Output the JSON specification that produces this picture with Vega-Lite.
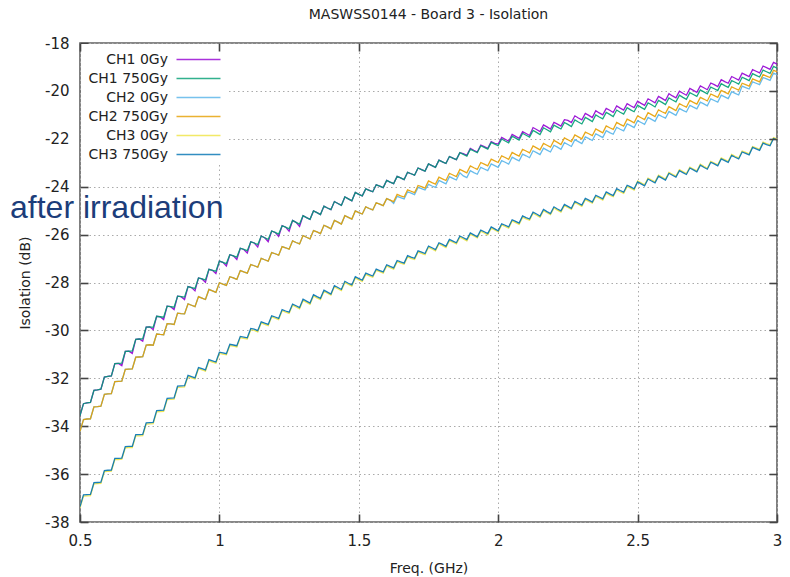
{
"$schema":"https://vega.github.io/schema/vega-lite/v6.json",
"width":697,"height":479,
"autosize":{"type":"none"},
"padding":{"left":80,"top":43,"right":13,"bottom":55},
"background":"white",
"title":{"text":"MASWSS0144 - Board 3 - Isolation","font":"DejaVu Sans","fontSize":14,"fontWeight":"normal","color":"#222222","offset":14,"anchor":"middle"},
"config":{"view":{"stroke":"#606060","strokeWidth":1.6},"font":"DejaVu Sans"},
"data":{"values":[
{"f":0.5,"p":-33.56,"g":-33.56,"lb":-34.21,"o":-34.21,"y":-37.41,"b":-37.36},
{"f":0.5125,"p":-33.06,"g":-33.06,"lb":-33.72,"o":-33.72,"y":-36.92,"b":-36.87},
{"f":0.525,"p":-33.03,"g":-33.03,"lb":-33.70,"o":-33.70,"y":-36.91,"b":-36.86},
{"f":0.5375,"p":-33.01,"g":-33.01,"lb":-33.69,"o":-33.69,"y":-36.90,"b":-36.85},
{"f":0.55,"p":-32.50,"g":-32.50,"lb":-33.19,"o":-33.19,"y":-36.41,"b":-36.36},
{"f":0.5625,"p":-32.48,"g":-32.48,"lb":-33.18,"o":-33.18,"y":-36.40,"b":-36.35},
{"f":0.575,"p":-32.45,"g":-32.45,"lb":-33.16,"o":-33.16,"y":-36.39,"b":-36.34},
{"f":0.5875,"p":-31.95,"g":-31.95,"lb":-32.67,"o":-32.67,"y":-35.90,"b":-35.85},
{"f":0.6,"p":-31.92,"g":-31.92,"lb":-32.65,"o":-32.65,"y":-35.89,"b":-35.84},
{"f":0.6125,"p":-31.90,"g":-31.90,"lb":-32.64,"o":-32.64,"y":-35.88,"b":-35.83},
{"f":0.625,"p":-31.39,"g":-31.39,"lb":-32.14,"o":-32.14,"y":-35.39,"b":-35.34},
{"f":0.6375,"p":-31.38,"g":-31.38,"lb":-32.13,"o":-32.13,"y":-35.39,"b":-35.34},
{"f":0.65,"p":-31.47,"g":-31.37,"lb":-32.12,"o":-32.12,"y":-35.38,"b":-35.33},
{"f":0.6625,"p":-30.88,"g":-30.88,"lb":-31.63,"o":-31.63,"y":-34.90,"b":-34.85},
{"f":0.675,"p":-30.87,"g":-30.87,"lb":-31.62,"o":-31.62,"y":-34.89,"b":-34.84},
{"f":0.6875,"p":-30.96,"g":-30.86,"lb":-31.61,"o":-31.61,"y":-34.89,"b":-34.84},
{"f":0.7,"p":-30.37,"g":-30.37,"lb":-31.12,"o":-31.12,"y":-34.40,"b":-34.35},
{"f":0.7125,"p":-30.36,"g":-30.36,"lb":-31.11,"o":-31.11,"y":-34.40,"b":-34.35},
{"f":0.725,"p":-30.45,"g":-30.35,"lb":-31.10,"o":-31.10,"y":-34.39,"b":-34.34},
{"f":0.7375,"p":-29.86,"g":-29.86,"lb":-30.61,"o":-30.61,"y":-33.91,"b":-33.86},
{"f":0.75,"p":-29.85,"g":-29.85,"lb":-30.60,"o":-30.60,"y":-33.90,"b":-33.85},
{"f":0.7625,"p":-29.97,"g":-29.87,"lb":-30.62,"o":-30.62,"y":-33.89,"b":-33.84},
{"f":0.775,"p":-29.41,"g":-29.41,"lb":-30.15,"o":-30.15,"y":-33.40,"b":-33.35},
{"f":0.7875,"p":-29.43,"g":-29.43,"lb":-30.17,"o":-30.17,"y":-33.39,"b":-33.34},
{"f":0.8,"p":-29.55,"g":-29.45,"lb":-30.18,"o":-30.18,"y":-33.38,"b":-33.33},
{"f":0.8125,"p":-28.99,"g":-28.99,"lb":-29.72,"o":-29.72,"y":-32.89,"b":-32.84},
{"f":0.825,"p":-29.01,"g":-29.01,"lb":-29.73,"o":-29.73,"y":-32.88,"b":-32.83},
{"f":0.8375,"p":-29.13,"g":-29.03,"lb":-29.75,"o":-29.75,"y":-32.87,"b":-32.82},
{"f":0.85,"p":-28.57,"g":-28.57,"lb":-29.28,"o":-29.28,"y":-32.38,"b":-32.33},
{"f":0.8625,"p":-28.59,"g":-28.59,"lb":-29.30,"o":-29.30,"y":-32.37,"b":-32.32},
{"f":0.875,"p":-28.71,"g":-28.61,"lb":-29.31,"o":-29.31,"y":-32.36,"b":-32.31},
{"f":0.8875,"p":-28.17,"g":-28.17,"lb":-28.89,"o":-28.89,"y":-31.93,"b":-31.88},
{"f":0.9,"p":-28.21,"g":-28.21,"lb":-28.95,"o":-28.95,"y":-31.98,"b":-31.93},
{"f":0.9125,"p":-28.35,"g":-28.25,"lb":-29.01,"o":-29.01,"y":-32.03,"b":-31.98},
{"f":0.925,"p":-27.81,"g":-27.81,"lb":-28.59,"o":-28.59,"y":-31.60,"b":-31.55},
{"f":0.9375,"p":-27.85,"g":-27.85,"lb":-28.65,"o":-28.65,"y":-31.65,"b":-31.60},
{"f":0.95,"p":-27.99,"g":-27.89,"lb":-28.71,"o":-28.71,"y":-31.70,"b":-31.65},
{"f":0.9625,"p":-27.45,"g":-27.45,"lb":-28.29,"o":-28.29,"y":-31.27,"b":-31.22},
{"f":0.975,"p":-27.49,"g":-27.49,"lb":-28.35,"o":-28.35,"y":-31.32,"b":-31.27},
{"f":0.9875,"p":-27.63,"g":-27.53,"lb":-28.41,"o":-28.41,"y":-31.37,"b":-31.32},
{"f":1.0,"p":-27.11,"g":-27.11,"lb":-28.01,"o":-28.01,"y":-30.96,"b":-30.91},
{"f":1.0125,"p":-27.16,"g":-27.16,"lb":-28.07,"o":-28.07,"y":-30.99,"b":-30.94},
{"f":1.025,"p":-27.31,"g":-27.21,"lb":-28.12,"o":-28.12,"y":-31.02,"b":-30.97},
{"f":1.0375,"p":-26.84,"g":-26.84,"lb":-27.76,"o":-27.76,"y":-30.63,"b":-30.58},
{"f":1.05,"p":-26.89,"g":-26.89,"lb":-27.81,"o":-27.81,"y":-30.66,"b":-30.61},
{"f":1.0625,"p":-27.04,"g":-26.94,"lb":-27.87,"o":-27.87,"y":-30.69,"b":-30.64},
{"f":1.075,"p":-26.57,"g":-26.57,"lb":-27.50,"o":-27.50,"y":-30.30,"b":-30.25},
{"f":1.0875,"p":-26.62,"g":-26.62,"lb":-27.56,"o":-27.56,"y":-30.33,"b":-30.28},
{"f":1.1,"p":-26.77,"g":-26.67,"lb":-27.61,"o":-27.61,"y":-30.36,"b":-30.31},
{"f":1.1125,"p":-26.30,"g":-26.30,"lb":-27.25,"o":-27.25,"y":-29.97,"b":-29.92},
{"f":1.125,"p":-26.35,"g":-26.35,"lb":-27.30,"o":-27.30,"y":-30.00,"b":-29.95},
{"f":1.1375,"p":-26.52,"g":-26.42,"lb":-27.36,"o":-27.36,"y":-30.06,"b":-30.01},
{"f":1.15,"p":-26.06,"g":-26.06,"lb":-26.99,"o":-26.99,"y":-29.69,"b":-29.64},
{"f":1.1625,"p":-26.13,"g":-26.13,"lb":-27.05,"o":-27.05,"y":-29.75,"b":-29.70},
{"f":1.175,"p":-26.30,"g":-26.20,"lb":-27.11,"o":-27.11,"y":-29.80,"b":-29.75},
{"f":1.1875,"p":-25.85,"g":-25.85,"lb":-26.75,"o":-26.75,"y":-29.44,"b":-29.39},
{"f":1.2,"p":-25.91,"g":-25.91,"lb":-26.80,"o":-26.80,"y":-29.49,"b":-29.44},
{"f":1.2125,"p":-26.08,"g":-25.98,"lb":-26.86,"o":-26.86,"y":-29.55,"b":-29.50},
{"f":1.225,"p":-25.63,"g":-25.63,"lb":-26.50,"o":-26.50,"y":-29.18,"b":-29.13},
{"f":1.2375,"p":-25.69,"g":-25.69,"lb":-26.55,"o":-26.55,"y":-29.24,"b":-29.19},
{"f":1.25,"p":-25.86,"g":-25.76,"lb":-26.61,"o":-26.61,"y":-29.29,"b":-29.24},
{"f":1.2625,"p":-25.41,"g":-25.41,"lb":-26.26,"o":-26.26,"y":-28.95,"b":-28.90},
{"f":1.275,"p":-25.49,"g":-25.49,"lb":-26.33,"o":-26.33,"y":-29.02,"b":-28.97},
{"f":1.2875,"p":-25.66,"g":-25.56,"lb":-26.39,"o":-26.39,"y":-29.10,"b":-29.05},
{"f":1.3,"p":-25.21,"g":-25.21,"lb":-26.04,"o":-26.04,"y":-28.75,"b":-28.70},
{"f":1.3125,"p":-25.29,"g":-25.29,"lb":-26.11,"o":-26.11,"y":-28.83,"b":-28.78},
{"f":1.325,"p":-25.36,"g":-25.36,"lb":-26.18,"o":-26.18,"y":-28.91,"b":-28.86},
{"f":1.3375,"p":-25.01,"g":-25.01,"lb":-25.83,"o":-25.83,"y":-28.56,"b":-28.51},
{"f":1.35,"p":-25.08,"g":-25.08,"lb":-25.89,"o":-25.89,"y":-28.64,"b":-28.59},
{"f":1.3625,"p":-25.16,"g":-25.16,"lb":-25.96,"o":-25.96,"y":-28.71,"b":-28.66},
{"f":1.375,"p":-24.81,"g":-24.81,"lb":-25.61,"o":-25.61,"y":-28.37,"b":-28.32},
{"f":1.3875,"p":-24.89,"g":-24.89,"lb":-25.68,"o":-25.68,"y":-28.45,"b":-28.40},
{"f":1.4,"p":-24.96,"g":-24.96,"lb":-25.76,"o":-25.76,"y":-28.53,"b":-28.48},
{"f":1.4125,"p":-24.62,"g":-24.62,"lb":-25.41,"o":-25.41,"y":-28.18,"b":-28.13},
{"f":1.425,"p":-24.70,"g":-24.70,"lb":-25.48,"o":-25.48,"y":-28.26,"b":-28.21},
{"f":1.4375,"p":-24.78,"g":-24.78,"lb":-25.56,"o":-25.56,"y":-28.34,"b":-28.29},
{"f":1.45,"p":-24.43,"g":-24.43,"lb":-25.21,"o":-25.21,"y":-28.00,"b":-27.95},
{"f":1.4625,"p":-24.51,"g":-24.51,"lb":-25.28,"o":-25.28,"y":-28.08,"b":-28.03},
{"f":1.475,"p":-24.59,"g":-24.59,"lb":-25.35,"o":-25.35,"y":-28.15,"b":-28.10},
{"f":1.4875,"p":-24.24,"g":-24.24,"lb":-25.01,"o":-25.01,"y":-27.81,"b":-27.76},
{"f":1.5,"p":-24.32,"g":-24.32,"lb":-25.08,"o":-25.08,"y":-27.89,"b":-27.84},
{"f":1.5125,"p":-24.38,"g":-24.38,"lb":-25.14,"o":-25.14,"y":-27.95,"b":-27.90},
{"f":1.525,"p":-24.09,"g":-24.09,"lb":-24.84,"o":-24.84,"y":-27.66,"b":-27.61},
{"f":1.5375,"p":-24.15,"g":-24.15,"lb":-24.91,"o":-24.91,"y":-27.72,"b":-27.67},
{"f":1.55,"p":-24.21,"g":-24.21,"lb":-24.97,"o":-24.97,"y":-27.78,"b":-27.73},
{"f":1.5625,"p":-23.92,"g":-23.92,"lb":-24.67,"o":-24.67,"y":-27.49,"b":-27.44},
{"f":1.575,"p":-23.98,"g":-23.98,"lb":-24.73,"o":-24.73,"y":-27.55,"b":-27.50},
{"f":1.5875,"p":-24.04,"g":-24.04,"lb":-24.79,"o":-24.79,"y":-27.61,"b":-27.56},
{"f":1.6,"p":-23.74,"g":-23.74,"lb":-24.50,"o":-24.50,"y":-27.31,"b":-27.26},
{"f":1.6125,"p":-23.81,"g":-23.81,"lb":-24.56,"o":-24.56,"y":-27.38,"b":-27.33},
{"f":1.625,"p":-23.87,"g":-23.87,"lb":-24.70,"o":-24.62,"y":-27.44,"b":-27.39},
{"f":1.6375,"p":-23.57,"g":-23.57,"lb":-24.40,"o":-24.32,"y":-27.13,"b":-27.08},
{"f":1.65,"p":-23.63,"g":-23.63,"lb":-24.46,"o":-24.38,"y":-27.19,"b":-27.14},
{"f":1.6625,"p":-23.70,"g":-23.70,"lb":-24.51,"o":-24.43,"y":-27.24,"b":-27.19},
{"f":1.675,"p":-23.40,"g":-23.40,"lb":-24.21,"o":-24.13,"y":-26.93,"b":-26.88},
{"f":1.6875,"p":-23.46,"g":-23.46,"lb":-24.27,"o":-24.19,"y":-26.99,"b":-26.94},
{"f":1.7,"p":-23.52,"g":-23.52,"lb":-24.33,"o":-24.25,"y":-27.04,"b":-26.99},
{"f":1.7125,"p":-23.22,"g":-23.22,"lb":-24.03,"o":-23.95,"y":-26.73,"b":-26.68},
{"f":1.725,"p":-23.29,"g":-23.29,"lb":-24.08,"o":-24.00,"y":-26.78,"b":-26.73},
{"f":1.7375,"p":-23.35,"g":-23.35,"lb":-24.14,"o":-24.06,"y":-26.84,"b":-26.79},
{"f":1.75,"p":-23.05,"g":-23.05,"lb":-23.90,"o":-23.76,"y":-26.53,"b":-26.48},
{"f":1.7625,"p":-23.12,"g":-23.12,"lb":-23.97,"o":-23.83,"y":-26.60,"b":-26.55},
{"f":1.775,"p":-23.19,"g":-23.19,"lb":-24.03,"o":-23.89,"y":-26.68,"b":-26.63},
{"f":1.7875,"p":-22.89,"g":-22.89,"lb":-23.74,"o":-23.60,"y":-26.39,"b":-26.34},
{"f":1.8,"p":-22.96,"g":-22.96,"lb":-23.81,"o":-23.67,"y":-26.46,"b":-26.41},
{"f":1.8125,"p":-23.03,"g":-23.03,"lb":-23.88,"o":-23.74,"y":-26.54,"b":-26.49},
{"f":1.825,"p":-22.74,"g":-22.74,"lb":-23.58,"o":-23.44,"y":-26.25,"b":-26.20},
{"f":1.8375,"p":-22.81,"g":-22.81,"lb":-23.65,"o":-23.51,"y":-26.32,"b":-26.27},
{"f":1.85,"p":-22.87,"g":-22.87,"lb":-23.72,"o":-23.58,"y":-26.39,"b":-26.34},
{"f":1.8625,"p":-22.58,"g":-22.58,"lb":-23.42,"o":-23.28,"y":-26.11,"b":-26.06},
{"f":1.875,"p":-22.62,"g":-22.65,"lb":-23.55,"o":-23.35,"y":-26.18,"b":-26.13},
{"f":1.8875,"p":-22.69,"g":-22.72,"lb":-23.62,"o":-23.42,"y":-26.26,"b":-26.21},
{"f":1.9,"p":-22.40,"g":-22.43,"lb":-23.33,"o":-23.13,"y":-25.98,"b":-25.93},
{"f":1.9125,"p":-22.48,"g":-22.51,"lb":-23.41,"o":-23.21,"y":-26.06,"b":-26.01},
{"f":1.925,"p":-22.55,"g":-22.58,"lb":-23.48,"o":-23.28,"y":-26.14,"b":-26.09},
{"f":1.9375,"p":-22.26,"g":-22.29,"lb":-23.19,"o":-22.99,"y":-25.86,"b":-25.81},
{"f":1.95,"p":-22.33,"g":-22.36,"lb":-23.26,"o":-23.06,"y":-25.93,"b":-25.88},
{"f":1.9625,"p":-22.40,"g":-22.43,"lb":-23.33,"o":-23.13,"y":-26.01,"b":-25.96},
{"f":1.975,"p":-22.12,"g":-22.15,"lb":-23.05,"o":-22.85,"y":-25.73,"b":-25.68},
{"f":1.9875,"p":-22.19,"g":-22.22,"lb":-23.12,"o":-22.92,"y":-25.81,"b":-25.76},
{"f":2.0,"p":-22.22,"g":-22.29,"lb":-23.19,"o":-22.99,"y":-25.89,"b":-25.84},
{"f":2.0125,"p":-21.94,"g":-22.01,"lb":-22.91,"o":-22.71,"y":-25.60,"b":-25.55},
{"f":2.025,"p":-22.02,"g":-22.09,"lb":-22.98,"o":-22.78,"y":-25.66,"b":-25.61},
{"f":2.0375,"p":-22.10,"g":-22.17,"lb":-23.06,"o":-22.86,"y":-25.73,"b":-25.68},
{"f":2.05,"p":-21.82,"g":-21.89,"lb":-22.77,"o":-22.57,"y":-25.43,"b":-25.38},
{"f":2.0625,"p":-21.90,"g":-21.97,"lb":-22.85,"o":-22.65,"y":-25.50,"b":-25.45},
{"f":2.075,"p":-21.98,"g":-22.05,"lb":-22.92,"o":-22.72,"y":-25.57,"b":-25.52},
{"f":2.0875,"p":-21.70,"g":-21.77,"lb":-22.64,"o":-22.44,"y":-25.27,"b":-25.22},
{"f":2.1,"p":-21.78,"g":-21.85,"lb":-22.71,"o":-22.51,"y":-25.34,"b":-25.29},
{"f":2.1125,"p":-21.86,"g":-21.93,"lb":-22.79,"o":-22.59,"y":-25.40,"b":-25.35},
{"f":2.125,"p":-21.53,"g":-21.65,"lb":-22.50,"o":-22.30,"y":-25.11,"b":-25.06},
{"f":2.1375,"p":-21.61,"g":-21.73,"lb":-22.58,"o":-22.38,"y":-25.19,"b":-25.14},
{"f":2.15,"p":-21.70,"g":-21.82,"lb":-22.66,"o":-22.46,"y":-25.28,"b":-25.23},
{"f":2.1625,"p":-21.42,"g":-21.54,"lb":-22.39,"o":-22.19,"y":-25.00,"b":-24.95},
{"f":2.175,"p":-21.50,"g":-21.62,"lb":-22.47,"o":-22.27,"y":-25.09,"b":-25.04},
{"f":2.1875,"p":-21.59,"g":-21.71,"lb":-22.55,"o":-22.35,"y":-25.17,"b":-25.12},
{"f":2.2,"p":-21.31,"g":-21.43,"lb":-22.27,"o":-22.07,"y":-24.89,"b":-24.84},
{"f":2.2125,"p":-21.39,"g":-21.51,"lb":-22.35,"o":-22.15,"y":-24.98,"b":-24.93},
{"f":2.225,"p":-21.47,"g":-21.59,"lb":-22.44,"o":-22.24,"y":-25.06,"b":-25.01},
{"f":2.2375,"p":-21.20,"g":-21.32,"lb":-22.16,"o":-21.96,"y":-24.79,"b":-24.74},
{"f":2.25,"p":-21.23,"g":-21.40,"lb":-22.24,"o":-22.04,"y":-24.87,"b":-24.82},
{"f":2.2625,"p":-21.32,"g":-21.49,"lb":-22.32,"o":-22.12,"y":-24.95,"b":-24.90},
{"f":2.275,"p":-21.04,"g":-21.21,"lb":-22.04,"o":-21.84,"y":-24.66,"b":-24.61},
{"f":2.2875,"p":-21.13,"g":-21.30,"lb":-22.12,"o":-21.92,"y":-24.74,"b":-24.69},
{"f":2.3,"p":-21.21,"g":-21.38,"lb":-22.20,"o":-22.00,"y":-24.82,"b":-24.77},
{"f":2.3125,"p":-20.94,"g":-21.11,"lb":-21.92,"o":-21.72,"y":-24.54,"b":-24.49},
{"f":2.325,"p":-21.02,"g":-21.19,"lb":-21.99,"o":-21.79,"y":-24.61,"b":-24.56},
{"f":2.3375,"p":-21.11,"g":-21.28,"lb":-22.07,"o":-21.87,"y":-24.69,"b":-24.64},
{"f":2.35,"p":-20.83,"g":-21.00,"lb":-21.79,"o":-21.59,"y":-24.41,"b":-24.36},
{"f":2.3625,"p":-20.92,"g":-21.09,"lb":-21.87,"o":-21.67,"y":-24.48,"b":-24.43},
{"f":2.375,"p":-21.00,"g":-21.17,"lb":-21.95,"o":-21.75,"y":-24.56,"b":-24.51},
{"f":2.3875,"p":-20.73,"g":-20.90,"lb":-21.66,"o":-21.46,"y":-24.27,"b":-24.22},
{"f":2.4,"p":-20.81,"g":-20.98,"lb":-21.74,"o":-21.54,"y":-24.35,"b":-24.30},
{"f":2.4125,"p":-20.90,"g":-21.07,"lb":-21.81,"o":-21.61,"y":-24.42,"b":-24.37},
{"f":2.425,"p":-20.63,"g":-20.80,"lb":-21.52,"o":-21.32,"y":-24.13,"b":-24.08},
{"f":2.4375,"p":-20.72,"g":-20.89,"lb":-21.60,"o":-21.40,"y":-24.21,"b":-24.16},
{"f":2.45,"p":-20.80,"g":-20.97,"lb":-21.67,"o":-21.47,"y":-24.28,"b":-24.23},
{"f":2.4625,"p":-20.53,"g":-20.70,"lb":-21.38,"o":-21.18,"y":-23.99,"b":-23.94},
{"f":2.475,"p":-20.62,"g":-20.79,"lb":-21.45,"o":-21.25,"y":-24.06,"b":-24.01},
{"f":2.4875,"p":-20.70,"g":-20.87,"lb":-21.53,"o":-21.33,"y":-24.14,"b":-24.09},
{"f":2.5,"p":-20.43,"g":-20.60,"lb":-21.24,"o":-21.04,"y":-23.76,"b":-23.80},
{"f":2.5125,"p":-20.52,"g":-20.69,"lb":-21.32,"o":-21.12,"y":-23.84,"b":-23.88},
{"f":2.525,"p":-20.60,"g":-20.77,"lb":-21.40,"o":-21.20,"y":-23.92,"b":-23.96},
{"f":2.5375,"p":-20.33,"g":-20.50,"lb":-21.11,"o":-20.91,"y":-23.64,"b":-23.68},
{"f":2.55,"p":-20.41,"g":-20.58,"lb":-21.19,"o":-20.99,"y":-23.72,"b":-23.76},
{"f":2.5625,"p":-20.50,"g":-20.67,"lb":-21.27,"o":-21.07,"y":-23.80,"b":-23.84},
{"f":2.575,"p":-20.23,"g":-20.40,"lb":-20.99,"o":-20.79,"y":-23.52,"b":-23.56},
{"f":2.5875,"p":-20.31,"g":-20.48,"lb":-21.07,"o":-20.87,"y":-23.60,"b":-23.64},
{"f":2.6,"p":-20.40,"g":-20.57,"lb":-21.14,"o":-20.94,"y":-23.68,"b":-23.72},
{"f":2.6125,"p":-20.12,"g":-20.29,"lb":-20.86,"o":-20.66,"y":-23.40,"b":-23.44},
{"f":2.625,"p":-20.21,"g":-20.38,"lb":-20.94,"o":-20.74,"y":-23.48,"b":-23.52},
{"f":2.6375,"p":-20.29,"g":-20.46,"lb":-21.02,"o":-20.82,"y":-23.56,"b":-23.60},
{"f":2.65,"p":-20.01,"g":-20.18,"lb":-20.73,"o":-20.53,"y":-23.29,"b":-23.33},
{"f":2.6625,"p":-20.10,"g":-20.27,"lb":-20.81,"o":-20.61,"y":-23.37,"b":-23.41},
{"f":2.675,"p":-20.18,"g":-20.35,"lb":-20.88,"o":-20.68,"y":-23.45,"b":-23.49},
{"f":2.6875,"p":-19.90,"g":-20.07,"lb":-20.60,"o":-20.40,"y":-23.18,"b":-23.22},
{"f":2.7,"p":-19.98,"g":-20.15,"lb":-20.68,"o":-20.48,"y":-23.26,"b":-23.30},
{"f":2.7125,"p":-20.06,"g":-20.23,"lb":-20.75,"o":-20.55,"y":-23.34,"b":-23.38},
{"f":2.725,"p":-19.79,"g":-19.96,"lb":-20.47,"o":-20.27,"y":-23.06,"b":-23.10},
{"f":2.7375,"p":-19.87,"g":-20.04,"lb":-20.54,"o":-20.34,"y":-23.15,"b":-23.19},
{"f":2.75,"p":-19.95,"g":-20.12,"lb":-20.62,"o":-20.42,"y":-23.23,"b":-23.27},
{"f":2.7625,"p":-19.67,"g":-19.84,"lb":-20.33,"o":-20.13,"y":-22.94,"b":-22.98},
{"f":2.775,"p":-19.74,"g":-19.91,"lb":-20.40,"o":-20.20,"y":-23.01,"b":-23.05},
{"f":2.7875,"p":-19.82,"g":-19.99,"lb":-20.47,"o":-20.27,"y":-23.09,"b":-23.13},
{"f":2.8,"p":-19.53,"g":-19.70,"lb":-20.18,"o":-19.98,"y":-22.80,"b":-22.84},
{"f":2.8125,"p":-19.61,"g":-19.78,"lb":-20.25,"o":-20.05,"y":-22.87,"b":-22.91},
{"f":2.825,"p":-19.68,"g":-19.85,"lb":-20.32,"o":-20.12,"y":-22.94,"b":-22.98},
{"f":2.8375,"p":-19.40,"g":-19.57,"lb":-20.03,"o":-19.83,"y":-22.65,"b":-22.69},
{"f":2.85,"p":-19.47,"g":-19.64,"lb":-20.10,"o":-19.90,"y":-22.73,"b":-22.77},
{"f":2.8625,"p":-19.55,"g":-19.72,"lb":-20.17,"o":-19.97,"y":-22.80,"b":-22.84},
{"f":2.875,"p":-19.26,"g":-19.43,"lb":-19.80,"o":-19.68,"y":-22.51,"b":-22.55},
{"f":2.8875,"p":-19.33,"g":-19.50,"lb":-19.86,"o":-19.74,"y":-22.57,"b":-22.61},
{"f":2.9,"p":-19.40,"g":-19.57,"lb":-19.92,"o":-19.80,"y":-22.63,"b":-22.67},
{"f":2.9125,"p":-19.11,"g":-19.28,"lb":-19.62,"o":-19.50,"y":-22.32,"b":-22.36},
{"f":2.925,"p":-19.18,"g":-19.35,"lb":-19.68,"o":-19.56,"y":-22.38,"b":-22.42},
{"f":2.9375,"p":-19.25,"g":-19.42,"lb":-19.74,"o":-19.62,"y":-22.44,"b":-22.48},
{"f":2.95,"p":-18.96,"g":-19.13,"lb":-19.44,"o":-19.32,"y":-22.14,"b":-22.18},
{"f":2.9625,"p":-19.03,"g":-19.20,"lb":-19.50,"o":-19.38,"y":-22.20,"b":-22.24},
{"f":2.975,"p":-19.10,"g":-19.27,"lb":-19.56,"o":-19.44,"y":-22.25,"b":-22.29},
{"f":2.9875,"p":-18.81,"g":-18.98,"lb":-19.26,"o":-19.14,"y":-21.95,"b":-21.99},
{"f":3.0,"p":-18.88,"g":-19.05,"lb":-19.32,"o":-19.20,"y":-22.01,"b":-22.05}
]},
"layer":[
{"transform":[{"fold":["p","g","lb","o","y","b"],"as":["s","v"]}],
 "mark":{"type":"line","strokeWidth":1.3,"opacity":0.9,"clip":true},
 "encoding":{
  "x":{"field":"f","type":"quantitative","scale":{"domain":[0.5,3],"nice":false,"zero":false},
   "axis":{"values":[0.5,1,1.5,2,2.5,3],"labelExpr":"'' + datum.value","title":"Freq. (GHz)","titleFont":"DejaVu Sans","titleFontSize":14,"titleFontWeight":"normal","titleColor":"#222222","titlePadding":13,
    "labelFont":"DejaVu Sans","labelFontSize":15,"labelColor":"#222222","labelPadding":11,"labelFlush":false,
    "domain":false,"offset":-8,"tickSize":8,"tickColor":"#444444","tickWidth":1.6,
    "grid":true,"gridColor":"#aaaaaa","gridDash":[1.5,3],"gridWidth":1}},
  "y":{"field":"v","type":"quantitative","scale":{"domain":[-38,-18],"nice":false,"zero":false},
   "axis":{"values":[-38,-36,-34,-32,-30,-28,-26,-24,-22,-20,-18],"labelExpr":"'' + datum.value","title":"Isolation (dB)","titleFont":"DejaVu Sans","titleFontSize":14,"titleFontWeight":"normal","titleColor":"#222222","titlePadding":12,
    "labelFont":"DejaVu Sans","labelFontSize":15,"labelColor":"#222222","labelPadding":11,"labelFlush":false,
    "domain":false,"offset":-8,"tickSize":8,"tickColor":"#444444","tickWidth":1.6,
    "grid":true,"gridColor":"#aaaaaa","gridDash":[1.5,3],"gridWidth":1}},
  "color":{"field":"s","type":"nominal",
   "scale":{"domain":["p","g","lb","o","y","b"],"range":["#9400d3","#009e73","#56b4e9","#e69f00","#f0e442","#0072b2"]},
   "legend":{"orient":"none","legendX":106,"legendY":4,"title":null,"symbolType":"M-3,0H3","symbolSize":215,"symbolStrokeWidth":1.5,"symbolOpacity":0.8,
    "rowPadding":3,"padding":4,
    "labelAlign":"right","labelOffset":-39,"labelFont":"DejaVu Sans","labelFontSize":14,"labelColor":"#222222","labelLimit":200,
    "labelExpr":"datum.label=='p'?'CH1 0Gy':datum.label=='g'?'CH1 750Gy':datum.label=='lb'?'CH2 0Gy':datum.label=='o'?'CH2 750Gy':datum.label=='y'?'CH3 0Gy':'CH3 750Gy'"}}
 }},
{"data":{"values":[{"box":"key"}]},
 "mark":{"type":"rect","fill":"white","stroke":null},
 "encoding":{
  "x":{"datum":0.5035,"type":"quantitative","axis":null},
  "x2":{"datum":1.024},
  "y":{"datum":-18.04,"type":"quantitative","axis":null},
  "y2":{"datum":-23.05}}},
{"data":{"values":[{"label":"after irradiation"}]},
 "mark":{"type":"text","font":"Liberation Sans","fontSize":32,"color":"#1c3d7a","align":"left","baseline":"alphabetic"},
 "encoding":{
  "x":{"datum":0.249,"type":"quantitative","axis":{"orient":"top","labels":false,"title":null,"grid":false,"domain":false,"tickSize":8,"offset":-8,"zindex":1,"tickColor":"#444444","tickWidth":1.6,"values":[0.5,1,1.5,2,2.5,3]}},
  "y":{"datum":-25.3,"type":"quantitative","axis":{"orient":"right","labels":false,"title":null,"grid":false,"domain":false,"tickSize":8,"offset":-8,"zindex":1,"tickColor":"#444444","tickWidth":1.6,"values":[-38,-36,-34,-32,-30,-28,-26,-24,-22,-20,-18]}},
  "text":{"field":"label"}}}
],
"resolve":{"axis":{"x":"independent","y":"independent"}}
}
